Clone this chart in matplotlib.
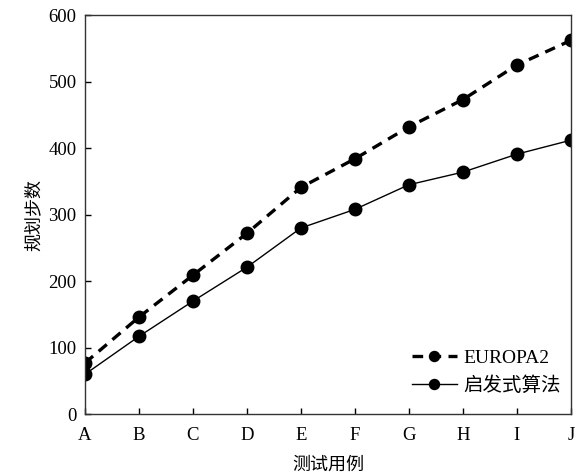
#!/usr/bin/env python3

import matplotlib

matplotlib.use("Agg")
import matplotlib.pyplot as plt

# test cases and planning steps
cases = ["A", "B", "C", "D", "E", "F", "G", "H", "I", "J"]
europa2 = [77, 146, 209, 272, 341, 384, 432, 473, 525, 562]
heuristic = [60, 117, 170, 221, 280, 308, 345, 364, 391, 412]

plt.rcParams["font.family"] = ["Liberation Serif", "Noto Sans CJK SC"]
plt.rcParams["font.size"] = 13.5

fig = plt.figure(figsize=(5.86, 4.75), dpi=100)
ax = fig.add_axes([0.145, 0.128, 0.829, 0.84])

x = list(range(len(cases)))
ax.plot(x, europa2, color="black", linestyle=(0, (3.2, 2.2)), linewidth=2.4,
        marker="o", markersize=9, label="EUROPA2")
ax.plot(x, heuristic, color="black", linestyle="-", linewidth=1.0,
        marker="o", markersize=9, label="启发式算法")

ax.set_xlim(0, len(cases) - 1)
ax.set_ylim(0, 600)
ax.set_xticks(x)
ax.set_xticklabels(cases)
ax.set_yticks([0, 100, 200, 300, 400, 500, 600])
ax.tick_params(direction="in", length=4, width=1)
ax.tick_params(axis="x", pad=9)
ax.tick_params(axis="y", pad=6)
for s in ax.spines.values():
    s.set_color("#333333")
    s.set_linewidth(1.0)

ax.set_xlabel("测试用例", family=["Noto Sans CJK SC"], fontsize=13, labelpad=9)
ax.set_ylabel("规划步数", family=["Noto Sans CJK SC"], fontsize=13, labelpad=4)

leg = ax.legend(loc="lower right", bbox_to_anchor=(1.0, 0.025), frameon=False,
                handlelength=2.3, markerscale=0.8, handletextpad=0.35,
                borderaxespad=0.1, labelspacing=0.45,
                prop={"family": ["Liberation Serif", "Noto Sans CJK SC"], "size": 14})

fig.savefig("out.png", dpi=100)
